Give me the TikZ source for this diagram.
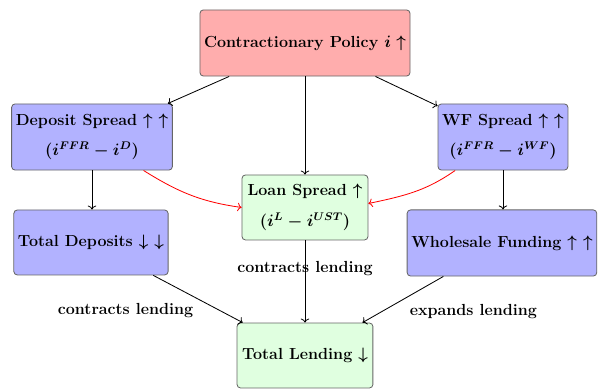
\documentclass[tikz,border=0pt]{standalone}
\usepackage{amsmath,amssymb,amsfonts}
\usepackage{xcolor}
\usepackage{tikz}
\usetikzlibrary{positioning,arrows.meta}

\tikzset{
  box/.style={draw=black!60, rounded corners=2.5pt, align=center, inner sep=3pt},
  policy/.style={box, fill=red!32},
  spread/.style={box, fill=blue!30},
  lend/.style={box, fill=green!12},
}

\begin{document}
\begin{tikzpicture}[font=\fontsize{11.6}{14}\selectfont\bfseries\boldmath,>={To[]},line width=0.6pt]
\useasboundingbox (0,0) rectangle (15.19,9.906);
% boxes
\node[policy, minimum width=5.33cm, minimum height=1.68cm] (pol) at (7.747,8.814) {Contractionary Policy $i\uparrow$};
\node[spread, minimum width=4.06cm, minimum height=1.68cm] (dsp) at (2.337,6.426) {Deposit Spread $\uparrow$ $\uparrow$\\[8pt] $(i^{FFR}-i^{D})$};
\node[spread, minimum width=3.30cm, minimum height=1.68cm] (wfs) at (12.776,6.426) {WF Spread $\uparrow$ $\uparrow$\\[8pt] $(i^{FFR}-i^{WF})$};
\node[lend, minimum width=3.20cm, minimum height=1.65cm] (lsp) at (7.747,4.636) {Loan Spread $\uparrow$\\[8pt] $(i^{L}-i^{UST})$};
\node[spread, minimum width=3.86cm, minimum height=1.65cm] (tdep) at (2.311,3.747) {Total Deposits $\downarrow$ $\downarrow$};
\node[spread, minimum width=4.76cm, minimum height=1.68cm] (wsf) at (12.75,3.734) {Wholesale Funding $\uparrow$ $\uparrow$};
\node[lend, minimum width=3.45cm, minimum height=1.65cm] (tlend) at (7.747,0.876) {Total Lending $\downarrow$};

% arrows
\draw[->] (pol) -- (dsp);
\draw[->] (pol) -- (wfs);
\draw[->] (pol) -- (lsp);
\draw[->] (dsp.south) -- (dsp.south |- tdep.north);
\draw[->] (wfs.south) -- (wfs.south |- wsf.north);
\draw[->,red] (dsp.-33) to[out=-32,in=172] (lsp.west);
\draw[->,red] (wfs.-145) to[out=-145,in=12] ([yshift=1mm]lsp.east);
\draw[->] (lsp) -- node[pos=0.34] {contracts lending} (tlend);
\draw[->] (tdep) -- node[pos=0.75,left=5.6mm] {contracts lending} (tlend);
\draw[->] (wsf) -- node[pos=0.75,right=5.6mm] {expands lending} (tlend);
\end{tikzpicture}
\end{document}
